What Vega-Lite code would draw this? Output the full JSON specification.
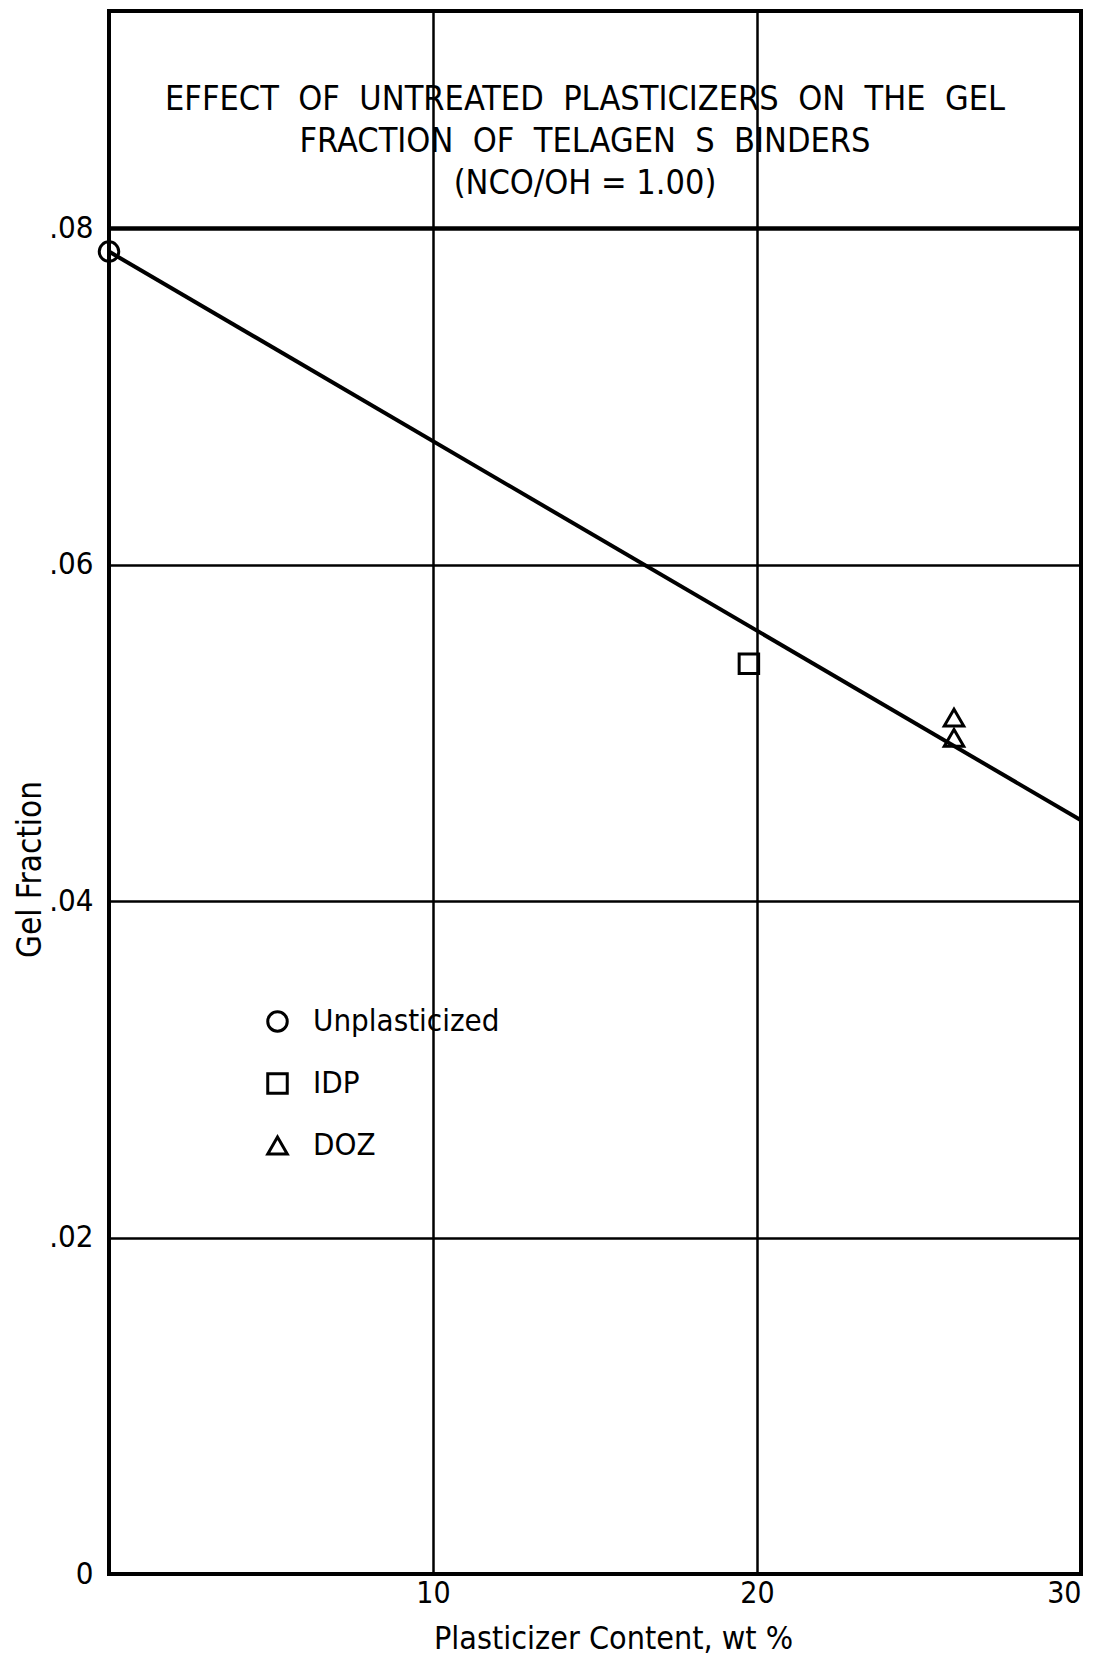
{
  "$schema": "https://vega.github.io/schema/vega-lite/v6.json",
  "width": 972,
  "height": 1563,
  "autosize": {"type": "none"},
  "padding": {"left": 109, "top": 11, "right": 20, "bottom": 85},
  "background": "white",
  "title": {
    "text": ["EFFECT\u00a0\u00a0OF\u00a0\u00a0UNTREATED\u00a0\u00a0PLASTICIZERS\u00a0\u00a0ON\u00a0\u00a0THE\u00a0\u00a0GEL", "FRACTION\u00a0\u00a0OF\u00a0\u00a0TELAGEN\u00a0\u00a0S\u00a0\u00a0BINDERS", "(NCO/OH = 1.00)"],
    "orient": "top",
    "anchor": "middle",
    "offset": -190,
    "dx": -10,
    "font": "DejaVu Sans Condensed",
    "fontSize": 34,
    "fontWeight": "normal",
    "lineHeight": 42,
    "color": "black"
  },
  "config": {
    "view": {"stroke": "black", "strokeWidth": 4},
    "font": "DejaVu Sans Condensed"
  },
  "datasets": {
    "points": [
      {"content": 0, "gel": 0.0786, "type": "Unplasticized"},
      {"content": 19.75, "gel": 0.0541, "type": "IDP"},
      {"content": 26.08, "gel": 0.0509, "type": "DOZ"},
      {"content": 26.08, "gel": 0.0497, "type": "DOZ"}
    ],
    "fit": [
      {"content": 0, "gel": 0.0786},
      {"content": 30, "gel": 0.0448}
    ]
  },
  "encoding": {
    "x": {
      "field": "content",
      "type": "quantitative",
      "scale": {"domain": [0, 30], "nice": false},
      "axis": {
        "values": [10, 20, 30],
        "grid": true,
        "gridColor": "black",
        "gridWidth": 2.5,
        "gridOpacity": 1,
        "domain": false,
        "ticks": false,
        "labelFontSize": 30,
        "labelPadding": 4,
        "labelColor": "black",
        "labelFont": "DejaVu Sans Condensed",
        "title": "Plasticizer Content, wt %",
        "titleFont": "DejaVu Sans Condensed",
        "titleFontSize": 32,
        "titleFontWeight": "normal",
        "titleColor": "black",
        "titlePadding": 15,
        "titleX": 504
      }
    },
    "y": {
      "field": "gel",
      "type": "quantitative",
      "scale": {"domain": [0, 0.0929], "nice": false, "zero": true},
      "axis": {
        "values": [0, 0.02, 0.04, 0.06, 0.08],
        "labelExpr": "datum.value == 0 ? '0' : '.' + substring(format(datum.value, '.2f'), 2)",
        "grid": true,
        "gridColor": "black",
        "gridOpacity": 1,
        "gridWidth": {"condition": {"test": "datum.value > 0.079", "value": 4.5}, "value": 2.5},
        "domain": false,
        "ticks": false,
        "labelFontSize": 31,
        "labelPadding": 16,
        "labelColor": "black",
        "labelFont": "DejaVu Sans Condensed",
        "title": "Gel Fraction",
        "titleFont": "DejaVu Sans Condensed",
        "titleFontSize": 33,
        "titleFontWeight": "normal",
        "titleColor": "black",
        "titleAngle": -90,
        "titleBaseline": "middle",
        "titleAlign": "center",
        "titleX": -79,
        "titleY": 858
      }
    }
  },
  "layer": [
    {
      "data": {"name": "fit"},
      "mark": {"type": "line", "color": "black", "strokeWidth": 4},
      "encoding": {}
    },
    {
      "data": {"name": "points"},
      "mark": {"type": "point", "filled": false, "color": "black", "strokeWidth": 3, "size": 380, "opacity": 1},
      "encoding": {
        "shape": {
          "field": "type",
          "type": "nominal",
          "scale": {"domain": ["Unplasticized", "IDP", "DOZ"], "range": ["circle", "square", "triangle-up"]},
          "legend": {
            "orient": "none",
            "legendX": 153,
            "legendY": 995,
            "title": null,
            "padding": 0,
            "labelFont": "DejaVu Sans Condensed",
            "labelFontSize": 31,
            "labelColor": "black",
            "labelLimit": 500,
            "labelOffset": 20,
            "rowPadding": 29,
            "symbolSize": 380,
            "symbolStrokeColor": "black",
            "symbolFillColor": "white",
            "symbolStrokeWidth": 3,
            "symbolOpacity": 1
          }
        }
      }
    }
  ]
}
